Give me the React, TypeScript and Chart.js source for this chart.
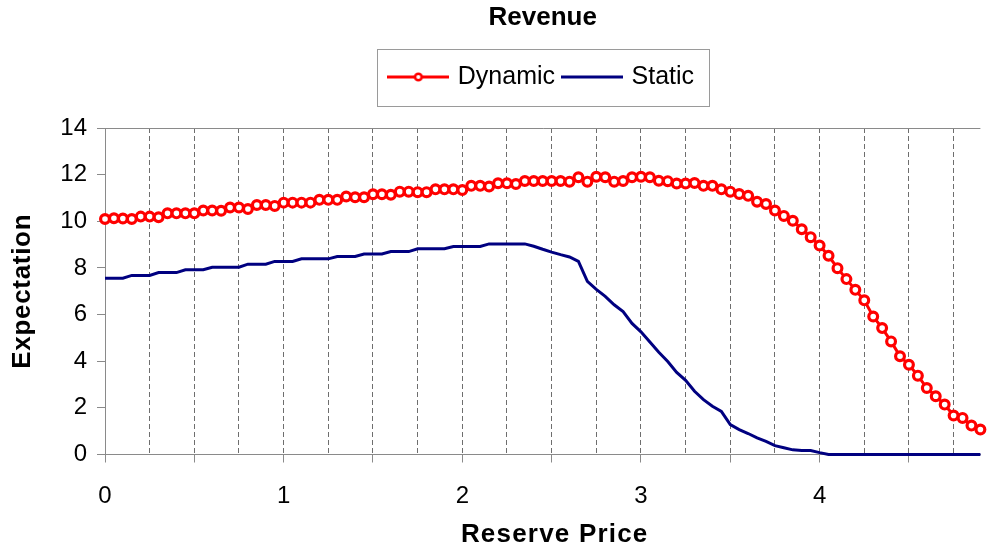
import React, { useEffect, useRef } from 'react';
import { Chart, registerables } from 'chart.js';

Chart.register(...registerables);

const chartTitle = 'Revenue';
const xAxisTitle = 'Reserve Price';
const yAxisTitle = 'Expectation';
const seriesNames = ['Dynamic', 'Static'];

const reservePrices = [
  0, 0.05, 0.1, 0.15, 0.2, 0.25, 0.3, 0.35, 0.4, 0.45,
  0.5, 0.55, 0.6, 0.65, 0.7, 0.75, 0.8, 0.85, 0.9, 0.95,
  1, 1.05, 1.1, 1.15, 1.2, 1.25, 1.3, 1.35, 1.4, 1.45,
  1.5, 1.55, 1.6, 1.65, 1.7, 1.75, 1.8, 1.85, 1.9, 1.95,
  2, 2.05, 2.1, 2.15, 2.2, 2.25, 2.3, 2.35, 2.4, 2.45,
  2.5, 2.55, 2.6, 2.65, 2.7, 2.75, 2.8, 2.85, 2.9, 2.95,
  3, 3.05, 3.1, 3.15, 3.2, 3.25, 3.3, 3.35, 3.4, 3.45,
  3.5, 3.55, 3.6, 3.65, 3.7, 3.75, 3.8, 3.85, 3.9, 3.95,
  4, 4.05, 4.1, 4.15, 4.2, 4.25, 4.3, 4.35, 4.4, 4.45,
  4.5, 4.55, 4.6, 4.65, 4.7, 4.75, 4.8, 4.85, 4.9,
];

const dynamicRevenue = [
  10.10, 10.13, 10.12, 10.10, 10.20, 10.20, 10.17, 10.34, 10.34, 10.34,
  10.34, 10.46, 10.46, 10.45, 10.59, 10.59, 10.53, 10.70, 10.70, 10.66,
  10.80, 10.80, 10.80, 10.80, 10.92, 10.92, 10.92, 11.06, 11.03, 11.03,
  11.16, 11.16, 11.14, 11.27, 11.27, 11.25, 11.25, 11.37, 11.37, 11.37,
  11.34, 11.52, 11.52, 11.49, 11.63, 11.63, 11.60, 11.73, 11.73, 11.73,
  11.73, 11.73, 11.70, 11.89, 11.70, 11.91, 11.89, 11.70, 11.73, 11.89,
  11.91, 11.89, 11.74, 11.72, 11.62, 11.62, 11.64, 11.52, 11.52, 11.37,
  11.27, 11.17, 11.09, 10.84, 10.74, 10.46, 10.23, 10.02, 9.66, 9.32,
  8.96, 8.52, 7.99, 7.52, 7.06, 6.61, 5.92, 5.42, 4.85, 4.21,
  3.85, 3.38, 2.85, 2.50, 2.14, 1.67, 1.57, 1.24, 1.07,
];

const staticRevenue = [
  7.56, 7.56, 7.56, 7.68, 7.68, 7.68, 7.80, 7.80, 7.80, 7.92,
  7.92, 7.92, 8.03, 8.03, 8.03, 8.03, 8.16, 8.16, 8.16, 8.28,
  8.28, 8.28, 8.39, 8.39, 8.39, 8.39, 8.49, 8.49, 8.49, 8.60,
  8.60, 8.60, 8.70, 8.70, 8.70, 8.82, 8.82, 8.82, 8.82, 8.92,
  8.92, 8.92, 8.92, 9.03, 9.03, 9.03, 9.03, 9.03, 8.93, 8.80,
  8.68, 8.57, 8.47, 8.28, 7.42, 7.08, 6.78, 6.42, 6.13, 5.62,
  5.26, 4.82, 4.38, 3.99, 3.52, 3.18, 2.71, 2.35, 2.07, 1.85,
  1.28, 1.07, 0.90, 0.71, 0.56, 0.38, 0.29, 0.20, 0.17, 0.17,
  0.08, 0, 0, 0, 0, 0, 0, 0, 0, 0,
  0, 0, 0, 0, 0, 0, 0, 0, 0,
];

// vertical dashed grid lines
const xGridValues = [
  0, 0.25, 0.5, 0.75, 1, 1.25, 1.5, 1.75, 2, 2.25, 2.5, 2.75,
  3, 3.25, 3.5, 3.75, 4, 4.25, 4.5, 4.75,
];
// solid tick marks below the x axis
const xTickMarkValues = [0, 0.5, 1, 1.5, 2, 2.5, 3, 3.5, 4, 4.5];
// labelled x ticks
const xLabelValues = [0, 1, 2, 3, 4];
const yTickValues = [0, 2, 4, 6, 8, 10, 12, 14];

const FONT = "'Liberation Sans', Arial, sans-serif";
const AXIS_GREY = '#8a8a8a';
const GRID_GREY = '#6e6e6e';

const has = (arr: number[], v: number) => arr.some((a) => Math.abs(a - v) < 1e-6);

const wrapTitle = (scale: any, spacing: number, dx: number) => {
  if (scale.__titleWrapped) return;
  const orig = scale.drawTitle.bind(scale);
  scale.drawTitle = function () {
    const ctx = this.ctx;
    ctx.save();
    (ctx as any).letterSpacing = spacing + 'px';
    ctx.translate(dx, 0);
    orig();
    ctx.restore();
  };
  scale.__titleWrapped = true;
};

export default function App() {
  const canvasRef = useRef<HTMLCanvasElement>(null);

  useEffect(() => {
    const canvas = canvasRef.current;
    if (!canvas) return;

    const makeLegendIcon = (color: string, marker: boolean) => {
      const c = document.createElement('canvas');
      c.width = 62;
      c.height = 14;
      const g = c.getContext('2d')!;
      g.strokeStyle = color;
      g.lineWidth = 3;
      g.beginPath();
      g.moveTo(0, 7);
      g.lineTo(62, 7);
      g.stroke();
      if (marker) {
        g.beginPath();
        g.arc(31, 7, 3.3, 0, Math.PI * 2);
        g.fillStyle = '#ffffff';
        g.fill();
        g.lineWidth = 2.6;
        g.stroke();
      }
      return c;
    };
    const dynIcon = makeLegendIcon('#ff0000', true);
    const statIcon = makeLegendIcon('#000080', false);

    const legendGap = {
      id: 'legendGap',
      beforeLayout(chart: any) {
        const lg = chart.legend;
        if (lg && !lg.__gapWrapped) {
          const fit = lg.fit.bind(lg);
          lg.fit = function () {
            fit();
            this.height += 28.5;
          };
          lg.__gapWrapped = true;
        }
      },
    };

    const legendBox = {
      id: 'legendBox',
      afterDraw(chart: any) {
        const lg = chart.legend;
        if (!lg || !lg.legendHitBoxes || !lg.legendHitBoxes.length) return;
        const hb = lg.legendHitBoxes;
        const first = hb[0];
        const last = hb[hb.length - 1];
        const left = first.left - 14;
        const right = last.left + last.width + 15;
        const top = lg.top - 6;
        const bottom = lg.top + 51;
        const ctx = chart.ctx;
        ctx.save();
        ctx.strokeStyle = '#9a9a9a';
        ctx.lineWidth = 1;
        ctx.strokeRect(Math.round(left) + 0.5, Math.round(top) + 0.5, Math.round(right - left), Math.round(bottom - top));
        ctx.restore();
      },
    };

    const chart = new Chart(canvas, {
      type: 'line',
      data: {
        datasets: [
          {
            label: seriesNames[0],
            data: reservePrices.map((x, i) => ({ x, y: dynamicRevenue[i] })),
            borderColor: '#ff0000',
            backgroundColor: '#ffffff',
            borderWidth: 3,
            pointRadius: 4.4,
            pointBorderWidth: 3.2,
            pointBackgroundColor: '#ffffff',
            pointBorderColor: '#ff0000',
            pointStyle: 'circle',
            tension: 0,
            clip: false as any,
          },
          {
            label: seriesNames[1],
            data: reservePrices.map((x, i) => ({ x, y: staticRevenue[i] })),
            borderColor: '#000080',
            backgroundColor: '#000080',
            borderWidth: 3,
            pointRadius: 0,
            tension: 0,
            clip: false as any,
          },
        ],
      },
      options: {
        responsive: false,
        animation: false,
        events: [],
        layout: { padding: { top: 0, left: 0, right: 1, bottom: 0 } },
        plugins: {
          tooltip: { enabled: false },
          title: {
            display: true,
            text: chartTitle,
            fullSize: false,
            color: '#000000',
            font: { family: FONT, size: 26, weight: 'bold' },
            padding: { top: 2.5, bottom: 20.8 },
          },
          legend: {
            display: true,
            fullSize: false,
            position: 'top',
            labels: {
              color: '#000000',
              font: { family: FONT, size: 25 },
              padding: 10,
              usePointStyle: true,
              pointStyleWidth: 54,
              generateLabels: () => [
                {
                  text: seriesNames[0],
                  pointStyle: dynIcon as any,
                  fillStyle: '#ff0000',
                  strokeStyle: '#ff0000',
                  lineWidth: 0,
                  hidden: false,
                  datasetIndex: 0,
                  fontColor: '#000000',
                },
                {
                  text: seriesNames[1],
                  pointStyle: statIcon as any,
                  fillStyle: '#000080',
                  strokeStyle: '#000080',
                  lineWidth: 0,
                  hidden: false,
                  datasetIndex: 1,
                  fontColor: '#000000',
                },
              ],
            },
          },
        },
        scales: {
          x: {
            type: 'linear',
            min: 0,
            max: 4.9,
            afterBuildTicks: (scale: any) => {
              scale.ticks = xGridValues.map((v) => ({ value: v }));
            },
            afterFit: (scale: any) => {
              scale.height = 93.5;
              wrapTitle(scale, 1.2, 12);
            },
            ticks: {
              autoSkip: false,
              maxRotation: 0,
              minRotation: 0,
              padding: 19,
              color: '#000000',
              font: { family: FONT, size: 24 },
              callback: (value: any) => (has(xLabelValues, Number(value)) ? String(value) : ''),
            },
            grid: {
              display: true,
              drawOnChartArea: true,
              drawTicks: true,
              tickLength: 8,
              lineWidth: 1,
              color: (ctx: any) => (ctx.tick && Math.abs(ctx.tick.value) < 1e-6 ? 'rgba(0,0,0,0)' : GRID_GREY),
              tickColor: (ctx: any) => (ctx.tick && has(xTickMarkValues, ctx.tick.value) ? AXIS_GREY : 'rgba(0,0,0,0)'),
              tickWidth: 1,
            },
            border: { display: true, color: AXIS_GREY, width: 1, dash: [5, 3] },
            title: {
              display: true,
              text: xAxisTitle,
              color: '#000000',
              font: { family: FONT, size: 26, weight: 'bold', lineHeight: 1 },
              padding: { top: 0, bottom: 0 },
            },
          },
          y: {
            type: 'linear',
            min: 0,
            max: 14,
            afterBuildTicks: (scale: any) => {
              scale.ticks = yTickValues.map((v) => ({ value: v }));
            },
            afterFit: (scale: any) => {
              scale.width = 105;
              wrapTitle(scale, 0.7, 0);
            },
            ticks: {
              padding: 10,
              color: '#000000',
              font: { family: FONT, size: 24 },
            },
            grid: {
              display: true,
              drawOnChartArea: true,
              drawTicks: true,
              tickLength: 8,
              lineWidth: 1,
              color: (ctx: any) => (ctx.tick && ctx.tick.value === 14 ? AXIS_GREY : 'rgba(0,0,0,0)'),
              tickColor: AXIS_GREY,
            },
            border: { display: true, color: AXIS_GREY, width: 1 },
            title: {
              display: true,
              text: yAxisTitle,
              color: '#000000',
              font: { family: FONT, size: 26, weight: 'bold', lineHeight: 1.2 },
              padding: { top: 7, bottom: 0 },
            },
          },
        },
      } as any,
      plugins: [legendGap, legendBox],
    });

    return () => {
      chart.destroy();
    };
  }, []);

  return (
    <div style={{ position: 'fixed', left: 0, top: 0, width: 988, height: 548, background: '#ffffff' }}>
      <canvas ref={canvasRef} width={988} height={548} style={{ display: 'block', width: 988, height: 548 }} />
    </div>
  );
}
